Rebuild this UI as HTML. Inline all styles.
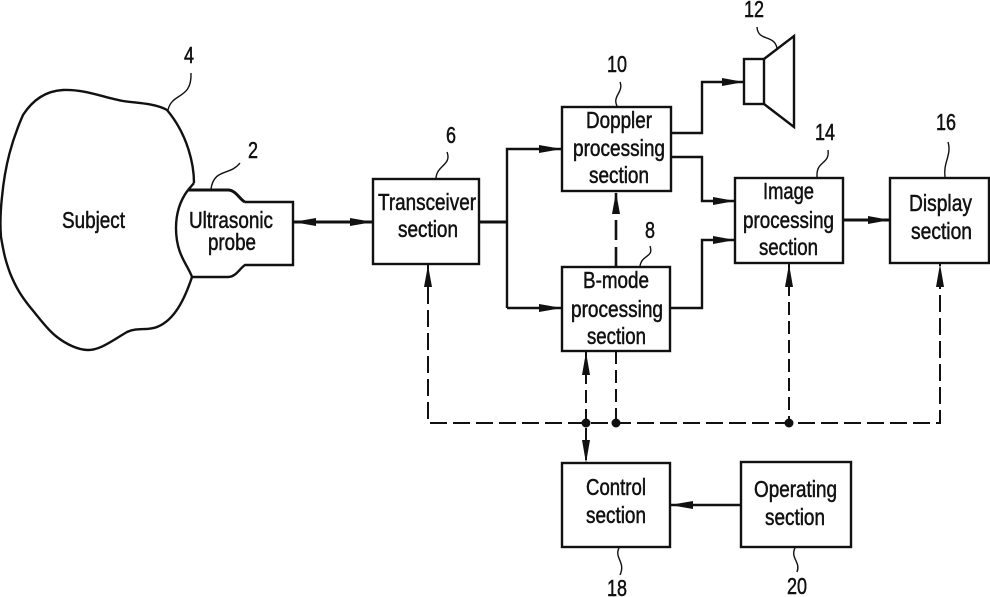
<!DOCTYPE html>
<html><head><meta charset="utf-8"><style>
html,body{margin:0;padding:0;background:#fff}
svg{display:block}
text{font-family:"Liberation Sans",sans-serif;font-size:23px;fill:#111;stroke:#111;stroke-width:.5}
.s{fill:none;stroke:#111;stroke-width:2.4}
.t{fill:none;stroke:#111;stroke-width:3}
.d{fill:none;stroke:#111;stroke-width:2;stroke-dasharray:13 6}
.l{fill:none;stroke:#111;stroke-width:1.4}
.a{fill:#111}
</style></head><body>
<svg width="990" height="597" viewBox="0 0 990 597" xmlns="http://www.w3.org/2000/svg">
<rect width="990" height="597" fill="#fff"/>
<!-- subject -->
<path class="s" d="M194 183C194 165 188 135 167 110C155 103 135 103 123 101C105 98 85 89 63 90C45 91 32 101 23 115C12 140 5 165 2 197C0 215 0 225 1 237C4 255 6 262 10 273C16 288 22 297 30 307C40 319 48 330 57 337C66 344 78 350 88 350C100 350 110 342 127 332C138 327 147 331 157 327C175 320 185 298 192 277"/>
<path class="s" d="M194 183L188 190"/>
<!-- probe -->
<path class="t" d="M188 190L228 190C236 190 240 200 245 202"/>
<path class="s" d="M245 202L293 202L293 265L245 265C240 268 236 277 228 277L192 277C188 265 176 255 176 228C176 210 182 198 188 190"/>
<!-- boxes -->
<rect class="s" x="373" y="179" width="106" height="85"/>
<rect class="s" x="562" y="107" width="109" height="84"/>
<rect class="s" x="562" y="267" width="108" height="84"/>
<rect class="s" x="735" y="178" width="108" height="85"/>
<rect class="s" x="890" y="178" width="99" height="85"/>
<rect class="s" x="562" y="463" width="108" height="84"/>
<rect class="s" x="741" y="462" width="110" height="85"/>
<!-- speaker -->
<rect class="s" x="744" y="59" width="20" height="45"/>
<path class="s" d="M764 59L794 36L794 127L764 104"/>
<!-- solid connectors -->
<path class="t" d="M293 222L373 222"/>
<path class="t" d="M479 222L507 222"/>
<path class="s" d="M507 308L507 149L562 149M507 308L562 308"/>
<path class="s" d="M671 133L702 133L702 82L744 82"/>
<path class="s" d="M671 157L702 157L702 201L735 201"/>
<path class="s" d="M670 308L702 308L702 240L735 240"/>
<path class="t" d="M843 220L890 220"/>
<path class="s" d="M741 505L670 505"/>
<!-- dashed -->
<path class="d" d="M428 264L428 423L940 423L940 264" style="stroke-dasharray:17 6"/>
<path class="d" d="M586 352L586 463"/>
<path class="d" d="M616 351L616 423"/>
<path class="d" d="M789 264L789 423"/>
<path class="d" d="M616 267L616 191" style="stroke-width:2.6;stroke-dasharray:20 7"/>
<circle class="a" cx="586" cy="423" r="4.5"/>
<circle class="a" cx="616" cy="423" r="4.5"/>
<circle class="a" cx="789" cy="423" r="4.5"/>
<!-- arrowheads -->
<g class="a">
<polygon points="293,222 316,218 316,226"/>
<polygon points="373,222 350,218 350,226"/>
<polygon points="562,149 539,145 539,153"/>
<polygon points="562,308 539,304 539,312"/>
<polygon points="744,82 722,78 722,86"/>
<polygon points="735,201 713,197 713,205"/>
<polygon points="735,240 713,236 713,244"/>
<polygon points="890,220 868,216 868,224"/>
<polygon points="670,505 693,501 693,509"/>
<polygon points="616,192 612,214 620,214"/>
<polygon points="428,265 424,287 432,287"/>
<polygon points="586,352 582,375 590,375"/>
<polygon points="586,463 582,440 590,440"/>
<polygon points="789,264 785,287 793,287"/>
<polygon points="940,264 936,287 944,287"/>
</g>
<!-- leaders -->
<path class="l" d="M191 73C192 100 172 92 168 110"/>
<path class="l" d="M240 163C230 176 214 168 211 189"/>
<path class="l" d="M447 152C452 165 437 165 436 178"/>
<path class="l" d="M620 82C624 92 612 96 617 106"/>
<path class="l" d="M757 27C758 42 774 34 777 48"/>
<path class="l" d="M828 150C830 165 816 160 817 177"/>
<path class="l" d="M948 142C952 155 943 162 945 177"/>
<path class="l" d="M650 246C654 258 642 254 640 266"/>
<path class="l" d="M619 548C614 558 626 562 620 575"/>
<path class="l" d="M795 548C790 558 801 562 797 572"/>
<!-- labels -->
<text x="62" y="228" textLength="63" lengthAdjust="spacingAndGlyphs">Subject</text>
<text x="189" y="228" textLength="84" lengthAdjust="spacingAndGlyphs">Ultrasonic</text>
<text x="208" y="250" textLength="48" lengthAdjust="spacingAndGlyphs">probe</text>
<text x="378" y="210" textLength="98" lengthAdjust="spacingAndGlyphs">Transceiver</text>
<text x="398" y="237" textLength="60" lengthAdjust="spacingAndGlyphs">section</text>
<text x="586" y="128" textLength="66" lengthAdjust="spacingAndGlyphs">Doppler</text>
<text x="573" y="156" textLength="92" lengthAdjust="spacingAndGlyphs">processing</text>
<text x="589" y="183" textLength="60" lengthAdjust="spacingAndGlyphs">section</text>
<text x="763" y="199" textLength="51" lengthAdjust="spacingAndGlyphs">Image</text>
<text x="743" y="228" textLength="91" lengthAdjust="spacingAndGlyphs">processing</text>
<text x="759" y="255" textLength="59" lengthAdjust="spacingAndGlyphs">section</text>
<text x="909" y="211" textLength="63" lengthAdjust="spacingAndGlyphs">Display</text>
<text x="911" y="239" textLength="61" lengthAdjust="spacingAndGlyphs">section</text>
<text x="583" y="288" textLength="66" lengthAdjust="spacingAndGlyphs">B-mode</text>
<text x="571" y="317" textLength="92" lengthAdjust="spacingAndGlyphs">processing</text>
<text x="587" y="344" textLength="59" lengthAdjust="spacingAndGlyphs">section</text>
<text x="586" y="495" textLength="60" lengthAdjust="spacingAndGlyphs">Control</text>
<text x="586" y="523" textLength="60" lengthAdjust="spacingAndGlyphs">section</text>
<text x="754" y="497" textLength="83" lengthAdjust="spacingAndGlyphs">Operating</text>
<text x="765" y="525" textLength="60" lengthAdjust="spacingAndGlyphs">section</text>
<text x="184" y="63" textLength="10" lengthAdjust="spacingAndGlyphs">4</text>
<text x="248" y="158" textLength="10" lengthAdjust="spacingAndGlyphs">2</text>
<text x="446" y="143" textLength="10" lengthAdjust="spacingAndGlyphs">6</text>
<text x="607" y="72" textLength="20" lengthAdjust="spacingAndGlyphs">10</text>
<text x="744" y="17" textLength="20" lengthAdjust="spacingAndGlyphs">12</text>
<text x="815" y="140" textLength="20" lengthAdjust="spacingAndGlyphs">14</text>
<text x="936" y="130" textLength="20" lengthAdjust="spacingAndGlyphs">16</text>
<text x="645" y="238" textLength="10" lengthAdjust="spacingAndGlyphs">8</text>
<text x="607" y="596" textLength="20" lengthAdjust="spacingAndGlyphs">18</text>
<text x="787" y="594" textLength="20" lengthAdjust="spacingAndGlyphs">20</text>
</svg>
</body></html>
